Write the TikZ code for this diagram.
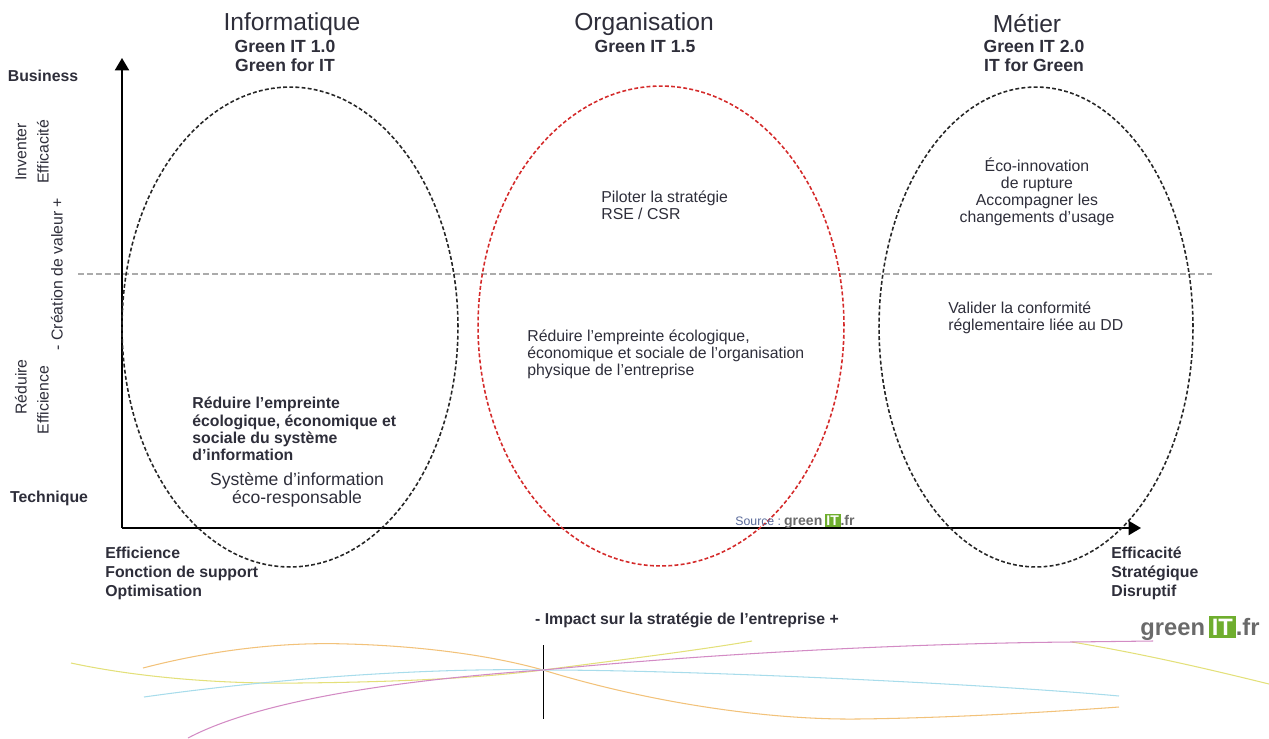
\documentclass[tikz,border=0pt]{standalone}
\usepackage{fontspec}
\setmainfont{Liberation Sans}
\usetikzlibrary{positioning}
\usetikzlibrary{shapes.geometric}
\usetikzlibrary{arrows.meta}

\definecolor{ink}{HTML}{2E2E3A}
\definecolor{redline}{HTML}{D42A2A}
\definecolor{gridgrey}{HTML}{ABABAB}
\definecolor{logogrey}{HTML}{6A6A6A}
\definecolor{logogreen}{HTML}{6FAE2E}
\definecolor{sourceblue}{HTML}{5A6A9A}
\definecolor{waveorange}{HTML}{F2C27A}
\definecolor{waveyellow}{HTML}{E3E07A}
\definecolor{wavecyan}{HTML}{A8DCEB}
\definecolor{wavemagenta}{HTML}{D38BC4}

% greenIT.fr logo, size in pt
\newcommand{\greenlogo}[1]{{\fontsize{#1}{#1}\selectfont\bfseries\color{logogrey}green\,{\setlength{\fboxsep}{0.12em}\colorbox{logogreen}{\textcolor{white}{IT}}}.fr}}

\begin{document}
\begin{tikzpicture}[
        x=0.02cm, y=-0.02cm,
        zone/.style={ellipse, draw=black!85, line width=0.9pt, dash pattern=on 2.2pt off 1.3pt, inner sep=0pt, minimum height=9.6cm},
        title/.style={font=\fontsize{14}{16}\selectfont, text=ink, inner sep=0pt},
        sub/.style={font=\fontsize{10}{11.3}\selectfont\bfseries, text=ink, align=center, inner sep=0pt},
        axislabel/.style={font=\fontsize{9}{10.8}\selectfont\bfseries, text=ink, align=left, inner sep=0pt},
        body/.style={font=\fontsize{9}{9.6}\selectfont, text=ink, inner sep=0pt},
        side/.style={font=\fontsize{9}{11}\selectfont, text=ink, rotate=90, inner sep=0pt},
        axis/.style={line width=1pt, -{Triangle[length=7pt, width=8pt]}},
        wave/.style={line width=0.6pt}
      ]
        \useasboundingbox (0,0) rectangle (1269,738);

        % axes and the middle line
        \coordinate (origin) at (122,528);
        \coordinate (ytip)   at (122,58);
        \coordinate (xtip)   at (1141,528);
        \coordinate (midl)   at (78,274);
        \coordinate (midr)   at (1212,274);

        \draw[gridgrey, line width=0.7pt, dash pattern=on 3.4pt off 1.7pt] (midl) -- (midr);
        \draw[axis] (origin) -- (ytip);
        \draw[axis] (origin) -- (xtip);

        % the three zones
        \node[zone, minimum width=6.72cm]               (info)   at (290,327) {};
        \node[zone, minimum width=7.32cm, draw=redline] (orga)   at (661,326) {};
        \node[zone, minimum width=6.28cm]               (metier) at (1036,327) {};

        \node[title] (tinfo)   at (292,24)  {Informatique};
        \node[sub]   (sinfo)   at (285,56)  {Green IT 1.0\\Green for IT};
        \node[title] (torga)   at (644,24)  {Organisation};
        \node[sub]   (sorga)   at (645,46)  {Green IT 1.5};
        \node[title] (tmetier) at (1027,24) {Métier};
        \node[sub]   (smetier) at (1034,56) {Green IT 2.0\\IT for Green};

        % vertical axis labels
        \node[axislabel] (business)  at (43,76)  {Business};
        \node[axislabel] (technique) at (49,498) {Technique};
        \node[side] (inventer)   at (21,152) {Inventer};
        \node[side] (efficacite) at (43,152) {Efficacité};
        \node[side] (creation)   at (57,274) {- Création de valeur +};
        \node[side] (reduire)    at (21,387) {Réduire};
        \node[side] (efficience) at (43,400) {Efficience};

        % horizontal axis labels
        \node[axislabel, anchor=west] (leftend)  at (105,573)  {Efficience\\Fonction de support\\Optimisation};
        \node[axislabel, anchor=west] (rightend) at (1111,573) {Efficacité\\Stratégique\\Disruptif};
        \node[axislabel] (impact) at (687,620) {- Impact sur la stratégie de l'entreprise +};

        % zone contents
        \node[body, font=\fontsize{9}{9.8}\selectfont\bfseries, align=left, anchor=west] (infoa) at (192,429)
              {Réduire l'empreinte\\écologique, économique et\\sociale du système\\d'information};
        \node[body, font=\fontsize{10}{10.3}\selectfont, align=center] (infob) at (297,490)
              {Système d'information\\éco-responsable};
        \node[body, align=left, anchor=west] (orgaa) at (601,205) {Piloter la stratégie\\RSE / CSR};
        \node[body, align=left, anchor=west] (orgab) at (527,354)
              {Réduire l'empreinte écologique,\\économique et sociale de l'organisation\\physique de l'entreprise};
        \node[body, align=center] (metiera) at (1037,192)
              {Éco-innovation\\de rupture\\Accompagner les\\changements d'usage};
        \node[body, align=left, anchor=west] (metierb) at (948,318)
              {Valider la conformité\\réglementaire liée au DD};

        % logos
        \node[inner sep=0pt] (source) at (795,521) {\textcolor{sourceblue}{\fontsize{7}{7}\selectfont Source :}\,\greenlogo{8}};
        \node[inner sep=0pt] (logo)   at (1200,628) {\greenlogo{13.5}};

        % waves
        \coordinate (cross) at (543,670);
        \draw[black, line width=0.4pt] (543,645) -- (543,719);
        \draw[wave, waveorange] (143,668) .. controls (220,648) and (290,642) .. (348,644)
              .. controls (420,646) and (490,655) .. (cross)
              .. controls (640,700) and (760,720) .. (857,719)
              .. controls (950,718) and (1050,712) .. (1119,707);
        \draw[wave, waveyellow] (71,663) .. controls (150,680) and (240,684) .. (299,683)
              .. controls (400,682) and (480,678) .. (cross)
              .. controls (620,660) and (700,650) .. (752,641);
        \draw[wave, waveyellow] (1072,642) .. controls (1150,655) and (1220,672) .. (1269,684);
        \draw[wave, wavecyan] (144,697) .. controls (300,675) and (450,668) .. (cross)
              .. controls (700,670) and (1000,685) .. (1119,696);
        \draw[wave, wavemagenta] (188,738) .. controls (260,700) and (400,680) .. (cross)
              .. controls (750,650) and (950,643) .. (1072,642) -- (1153,641);
      \end{tikzpicture}
\end{document}
